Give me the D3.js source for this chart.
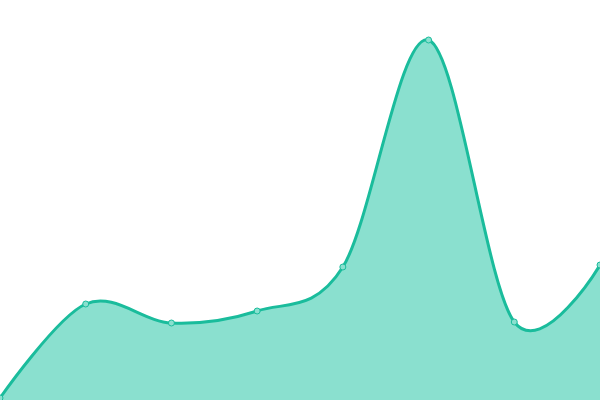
<!DOCTYPE html>
<html>
<head>
<meta charset="utf-8">
<script src="https://d3js.org/d3.v7.min.js"></script>
<style>
  body { margin: 0; background: #fff; }
  svg { display: block; }
</style>
</head>
<body>
<script>
var categories = [0, 1, 2, 3, 4, 5, 6, 7];
var values = [2, 96, 77, 89, 133, 360, 78, 135];

var width = 600, height = 400;

var svg = d3.select("body").append("svg")
      .attr("width", width)
      .attr("height", height);

var x = d3.scaleLinear().domain([0, 7]).range([0, width]);
var y = d3.scaleLinear().domain([0, 400]).range([height, 0]);

var data = categories.map(function(c, i){ return {c: c, v: values[i]}; });

var area = d3.area()
      .x(function(d){ return x(d.c); })
      .y0(height)
      .y1(function(d){ return y(d.v); })
      .curve(d3.curveCardinal);

var line = d3.line()
      .x(function(d){ return x(d.c); })
      .y(function(d){ return y(d.v); })
      .curve(d3.curveCardinal);

svg.append("path")
      .datum(data)
      .attr("d", area)
      .attr("fill", "#8ae0cf");

svg.append("path")
      .datum(data)
      .attr("d", line)
      .attr("fill", "none")
      .attr("stroke", "#1abc9c")
      .attr("stroke-width", 3);

svg.selectAll("circle")
      .data(data)
      .enter().append("circle")
      .attr("cx", function(d){ return x(d.c); })
      .attr("cy", function(d){ return y(d.v); })
      .attr("r", 3)
      .attr("fill", "#8ae0cf")
      .attr("stroke", "#1abc9c")
      .attr("stroke-width", 1);
</script>
</body>
</html>
